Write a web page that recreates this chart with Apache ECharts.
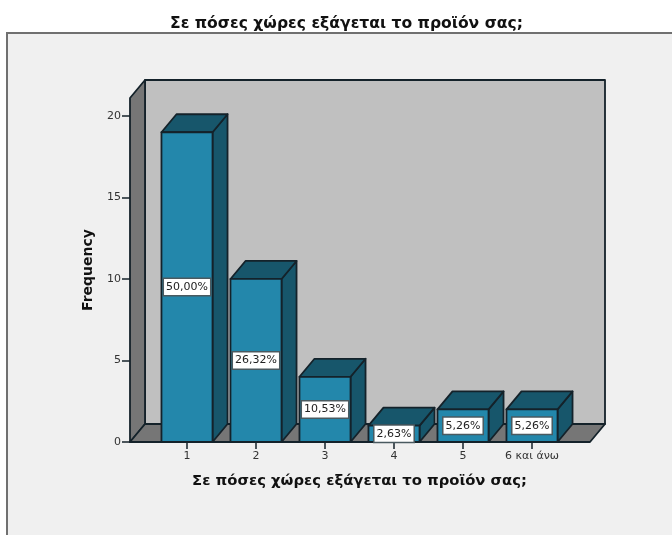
<!DOCTYPE html>
<html>
<head>
<meta charset="utf-8">
<style>html,body{margin:0;padding:0;background:#fff}#chart{width:672px;height:535px}</style>
<script src="https://cdn.jsdelivr.net/npm/echarts@6/dist/echarts.min.js"></script>
</head>
<body>
<div id="chart"></div>
<script>
const titleText = 'Σε πόσες χώρες εξάγεται το προϊόν σας;';
const categories = ['1', '2', '3', '4', '5', '6 και άνω'];
const frequencies = [19, 10, 4, 1, 2, 2];
const percentLabels = ['50,00%', '26,32%', '10,53%', '2,63%', '5,26%', '5,26%'];
const yTicks = [0, 5, 10, 15, 20];

const FONT = '"DejaVu Sans", sans-serif';
const INK = '#14222a';
const DEPTH_X = 15, DEPTH_Y = 18;      // oblique offset of the 3D projection
const FLOOR_LEFT = 22.5, FLOOR_RIGHT = 23.5; // floor overhang beyond the category bands

const poly = (points, fill, lineWidth) => ({
  type: 'polygon',
  shape: { points },
  style: { fill, stroke: INK, lineWidth: lineWidth || 1.8, lineJoin: 'round' }
});

// Back wall, side wall and floor of the chart box
function renderFrame(params) {
  const r = params.coordSys;
  const l = r.x - FLOOR_LEFT, ri = r.x + r.width + FLOOR_RIGHT, t = r.y, b = r.y + r.height;
  return {
    type: 'group',
    children: [
      poly([[l + DEPTH_X, t - DEPTH_Y], [ri + DEPTH_X, t - DEPTH_Y], [ri + DEPTH_X, b - DEPTH_Y], [l + DEPTH_X, b - DEPTH_Y]], '#c0c0c0'),
      poly([[l, b], [l + DEPTH_X, b - DEPTH_Y], [l + DEPTH_X, t - DEPTH_Y], [l, t]], '#767676'),
      poly([[l, b], [l + DEPTH_X, b - DEPTH_Y], [ri + DEPTH_X, b - DEPTH_Y], [ri, b]], '#767676')
    ]
  };
}

// One oblique bar: front face, top, right side and its percentage tag
function renderBar(params, api) {
  const idx = api.value(0);
  const top = api.coord([idx, api.value(1)]);
  const base = api.coord([idx, 0]);
  const half = api.size([1, 0])[0] * 0.74 / 2;
  const x0 = top[0] - half, x1 = top[0] + half, y0 = top[1], y1 = base[1];
  return {
    type: 'group',
    children: [
      poly([[x1, y0], [x1 + DEPTH_X, y0 - DEPTH_Y], [x1 + DEPTH_X, y1 - DEPTH_Y], [x1, y1]], '#17566b'),
      poly([[x0, y0], [x0 + DEPTH_X, y0 - DEPTH_Y], [x1 + DEPTH_X, y0 - DEPTH_Y], [x1, y0]], '#17566b'),
      poly([[x0, y0], [x1, y0], [x1, y1], [x0, y1]], '#2387ab'),
      {
        type: 'text',
        z2: 10,
        x: top[0],
        y: (y0 + y1) / 2,
        style: {
          text: percentLabels[idx],
          font: '11px ' + FONT,
          fill: '#222',
          align: 'center',
          verticalAlign: 'middle',
          backgroundColor: '#fff',
          borderColor: '#4a5a60',
          borderWidth: 1.5,
          padding: [3, 2, 2, 2]
        }
      }
    ]
  };
}

const chart = echarts.init(document.getElementById('chart'));
chart.setOption({
  animation: false,
  backgroundColor: '#ffffff',
  title: {
    text: titleText,
    left: 341.5, top: 10, textAlign: 'center',
    textStyle: { fontFamily: FONT, fontSize: 15.6, lineHeight: 18, fontWeight: 'bold', color: '#111' }
  },
  graphic: [{
    type: 'rect', z: -10, silent: true,
    shape: { x: 7, y: 33, width: 680, height: 520 },
    style: { fill: '#f0f0f0', stroke: '#707070', lineWidth: 2 }
  }],
  grid: { left: 152.5, top: 98, width: 414, bottom: 93, containLabel: false },
  xAxis: {
    type: 'category',
    data: categories,
    name: titleText,
    nameLocation: 'middle',
    nameGap: 39,
    nameTextStyle: { fontFamily: FONT, fontSize: 14.8, fontWeight: 'bold', color: '#111', verticalAlign: 'middle' },
    axisLine: { show: false },
    axisTick: { show: true, alignWithLabel: true, length: 7, lineStyle: { color: INK, width: 1.5 } },
    axisLabel: { fontFamily: FONT, fontSize: 11, color: '#333', margin: 9, interval: 0 },
    splitLine: { show: false }
  },
  yAxis: {
    type: 'value',
    min: 0,
    max: 21.1,
    offset: 22.5,
    name: 'Frequency',
    nameLocation: 'middle',
    nameGap: 35,
    nameTextStyle: { fontFamily: FONT, fontSize: 14, fontWeight: 'bold', color: '#111' },
    axisLine: { show: false },
    axisTick: { show: true, length: 8, customValues: yTicks, lineStyle: { color: INK, width: 1.5 } },
    axisLabel: { fontFamily: FONT, fontSize: 11, color: '#333', margin: 9, customValues: yTicks },
    splitLine: { show: false }
  },
  series: [
    { type: 'custom', silent: true, z: 1, clip: false, coordinateSystem: 'cartesian2d',
      renderItem: renderFrame, data: [[0, 0]] },
    { type: 'custom', silent: true, z: 2, clip: false, coordinateSystem: 'cartesian2d',
      renderItem: renderBar, encode: { x: 0, y: 1 },
      data: frequencies.map((v, i) => [i, v]) }
  ]
});
</script>
</body>
</html>
